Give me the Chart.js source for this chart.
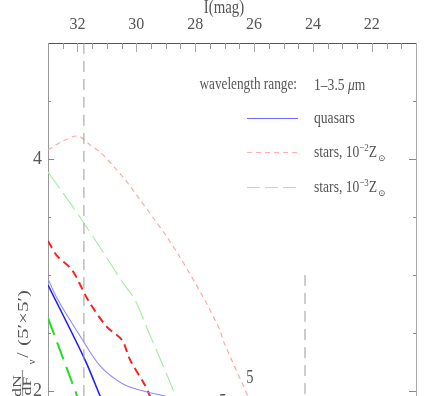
<!DOCTYPE html>
<html>
<head>
<meta charset="utf-8">
<script src="https://cdn.jsdelivr.net/npm/chart.js@4.4.1/dist/chart.umd.min.js"></script>
<style>
  html, body { margin: 0; padding: 0; background: #fff; overflow: hidden; }
  #wrap { width: 439px; height: 396px; }
</style>
</head>
<body>
<div id="wrap"><canvas id="chart" width="439" height="396"></canvas></div>
<script>
// top axis: I magnitude, left axis: log dN/dF
const magTicks = [32, 30, 28, 26, 24, 22];
const yTickLabels = [4, 2];

// quasars (faint and bright)
const quasarFaintMag = [33, 32.66, 31.91, 31.23, 30.45, 29.64, 29.03, 28.69];
const quasarFaintVal = [2.966, 2.784, 2.474, 2.216, 2.060, 1.991, 1.957, 1.93];
const quasarMag = [33, 31.74, 31.23, 31.13];
const quasarVal = [2.914, 2.267, 1.957, 1.897];

// stars 10^-2 Zsun
const star2FaintMag = [33, 32.49, 31.98, 31.57, 31.23, 30.72, 30.32, 29.87, 29.37, 28.96, 28.52, 27.77, 27.16, 27.06, 26.21, 26.07];
const star2FaintVal = [4.078, 4.155, 4.198, 4.121, 4.060, 3.922, 3.802, 3.647, 3.474, 3.328, 3.155, 2.828, 2.526, 2.440, 1.957, 1.88];
const star2Mag = [33, 32.69, 32.18, 31.64, 31.00, 30.49, 30.21, 29.71, 29.54, 29.47];
const star2Val = [3.293, 3.164, 3.043, 2.784, 2.552, 2.440, 2.267, 2.052, 1.957, 1.905];

// stars 10^-3 Zsun
const star3FaintMag = [33, 32.49, 31.85, 31.13, 30.45, 30.04, 29.64, 28.75, 28.69];
const star3FaintVal = [3.888, 3.707, 3.474, 3.198, 2.931, 2.784, 2.543, 2.009, 1.94];
const star3Mag = [33, 32.01, 31.95];
const star3Val = [2.629, 1.957, 1.914];

// vertical limits
const limitA = { mag: 31.78, from: 5, to: 1.9 };
const limitB = { mag: 24.27, from: 3.0, to: 1.9 };

// "5" annotations
const fiveMag = [26.14, 27.06];
const fiveVal = [2.121, 1.914];

const pts = (xs, ys) => xs.map((x, i) => ({ x: x, y: ys[i] }));
const SERIF = '"Liberation Serif", "DejaVu Serif", serif';
const TXT = '#555';

function fitText(ctx, str, x, y, size, sx, align, style) {
  ctx.save();
  ctx.font = (style ? style + ' ' : '') + size + 'px ' + SERIF;
  const w = ctx.measureText(str).width * sx;
  let x0 = x;
  if (align === 'right') x0 = x - w;
  if (align === 'center') x0 = x - w / 2;
  ctx.translate(x0, y);
  ctx.scale(sx, 1);
  ctx.textAlign = 'left';
  ctx.textBaseline = 'alphabetic';
  ctx.fillText(str, 0, 0);
  ctx.restore();
  return x0 + w;
}

function seg(ctx, x1, y1, x2, y2) {
  ctx.beginPath();
  ctx.moveTo(x1, y1);
  ctx.lineTo(x2, y2);
  ctx.stroke();
}

const decor = {
  id: 'decor',
  afterDatasetsDraw(chart) {
    const { ctx, chartArea: a, scales } = chart;
    const xs = scales.x, ys = scales.y;
    ctx.save();
    ctx.lineWidth = 1;

    // inward ticks on top axis
    for (let m = 21; m <= 33; m += 0.5) {
      const px = Math.round(xs.getPixelForValue(m)) + 0.5;
      const major = m % 2 === 0;
      ctx.strokeStyle = major ? '#aaa' : '#999';
      seg(ctx, px, a.top, px, a.top + (major ? 9 : 6));
    }
    // inward ticks on left and right axes
    for (let v = 2; v < 5; v += 0.5) {
      const py = Math.round(ys.getPixelForValue(v)) + 0.5;
      const major = v === 2 || v === 4;
      ctx.strokeStyle = '#888';
      seg(ctx, a.left, py, a.left + (major ? 6 : 3), py);
      seg(ctx, a.right, py, a.right - (major ? 7 : 3), py);
    }

    ctx.fillStyle = TXT;
    // top title
    fitText(ctx, 'I(mag)', 224, 13, 19, 0.78, 'center');

    // "5" marks
    fiveMag.forEach((m, i) => {
      fitText(ctx, '5', xs.getPixelForValue(m), ys.getPixelForValue(fiveVal[i]) + 6, 18, 0.8, 'center');
    });

    // legend
    fitText(ctx, 'wavelength range:', 297, 89, 17, 0.78, 'right');
    let e = fitText(ctx, '1\u20133.5 ', 314, 90, 17, 0.8, 'left');
    e = fitText(ctx, '\u03bc', e, 90, 17, 0.8, 'left', 'italic');
    fitText(ctx, 'm', e, 90, 17, 0.8, 'left');

    const legendRows = [
      { y: 118, color: '#6b6bff', dash: [], text: 'quasars', sup: null },
      { y: 152, color: '#ffadad', dash: [5, 4], text: 'stars, 10', sup: '\u22122' },
      { y: 187, color: '#a3eea3', dash: [13, 5], text: 'stars, 10', sup: '\u22123' }
    ];
    legendRows.forEach(r => {
      ctx.strokeStyle = r.color;
      ctx.setLineDash(r.dash);
      ctx.lineWidth = 1.2;
      seg(ctx, 247, r.y + 0.5, 298, r.y + 0.5);
      ctx.setLineDash([]);
      ctx.fillStyle = TXT;
      let xe = fitText(ctx, r.text, 314, r.y + 5, 17, 0.8, 'left');
      if (r.sup) {
        xe = fitText(ctx, r.sup, xe, r.y - 1, 11, 0.8, 'left');
        xe = fitText(ctx, 'Z', xe, r.y + 5, 17, 0.8, 'left');
        fitText(ctx, '\u2299', xe + 1, r.y + 9, 9, 1, 'left');
      }
    });

    // y title, rotated
    ctx.save();
    ctx.translate(0, 396);
    ctx.rotate(-Math.PI / 2);
    ctx.fillStyle = TXT;
    fitText(ctx, 'dN', 10, 21, 12, 1.5, 'center');
    ctx.strokeStyle = '#999';
    seg(ctx, -6, 22.5, 26, 22.5);
    fitText(ctx, 'dF', 10, 31, 12, 1.5, 'center');
    fitText(ctx, '\u03bd', 34, 35, 11, 1, 'center');
    fitText(ctx, '/', 41, 28, 16, 1.2, 'center');
    fitText(ctx, '(5\u2032\u00d75\u2032)', 50, 28, 15, 1.4, 'left');
    ctx.restore();

    ctx.restore();
  }
};

const lineDs = (data, color, width, dash) => ({
  data: data,
  borderColor: color,
  borderWidth: width,
  borderDash: dash,
  pointRadius: 0,
  fill: false,
  tension: 0.3
});

const datasets = [
  lineDs(pts([limitA.mag, limitA.mag], [limitA.from, limitA.to]), '#9a9a9a', 1, [11, 7]),
  lineDs(pts([limitB.mag, limitB.mag], [limitB.from, limitB.to]), '#9a9a9a', 1, [11, 7]),
  lineDs(pts(star2FaintMag, star2FaintVal), '#ffa8a8', 1.2, [5, 4]),
  lineDs(pts(star3FaintMag, star3FaintVal), '#a3f0a3', 1.2, [20, 6]),
  lineDs(pts(quasarFaintMag, quasarFaintVal), '#8c8cff', 1.1, []),
  lineDs(pts(star2Mag, star2Val), '#ff2020', 2, [8, 5]),
  lineDs(pts(quasarMag, quasarVal), '#2020ff', 1.6, []),
  lineDs(pts(star3Mag, star3Val), '#22dd22', 2, [18, 8])
];

const noPad = s => { s.paddingTop = 0; s.paddingBottom = 0; s.paddingLeft = 0; s.paddingRight = 0; };

new Chart(document.getElementById('chart'), {
  type: 'line',
  data: { datasets: datasets },
  options: {
    responsive: false,
    animation: false,
    devicePixelRatio: 1,
    layout: { padding: 0 },
    plugins: { legend: { display: false }, tooltip: { enabled: false } },
    scales: {
      x: {
        type: 'linear',
        position: 'top',
        reverse: true,
        min: 20.5,
        max: 33,
        afterFit: s => { s.height = 43; noPad(s); },
        afterBuildTicks: s => { s.ticks = magTicks.map(v => ({ value: v })); },
        grid: { display: false, drawTicks: false },
        border: { display: true, color: '#555' },
        ticks: { font: { family: SERIF, size: 16 }, color: TXT, padding: 9, maxRotation: 0 }
      },
      y: {
        type: 'linear',
        min: 1.957,
        max: 5,
        afterFit: s => { s.width = 48; noPad(s); },
        afterBuildTicks: s => { s.ticks = yTickLabels.map(v => ({ value: v })); },
        grid: { display: false, drawTicks: false },
        border: { display: true, color: '#999' },
        ticks: { font: { family: SERIF, size: 18 }, color: TXT, padding: 6 }
      },
      y2: {
        type: 'linear',
        position: 'right',
        display: true,
        min: 1.957,
        max: 5,
        afterFit: s => { s.width = 23; noPad(s); },
        grid: { display: false, drawTicks: false },
        border: { display: true, color: '#aaa' },
        ticks: { display: false }
      }
    }
  },
  plugins: [decor]
});
</script>
</body>
</html>
